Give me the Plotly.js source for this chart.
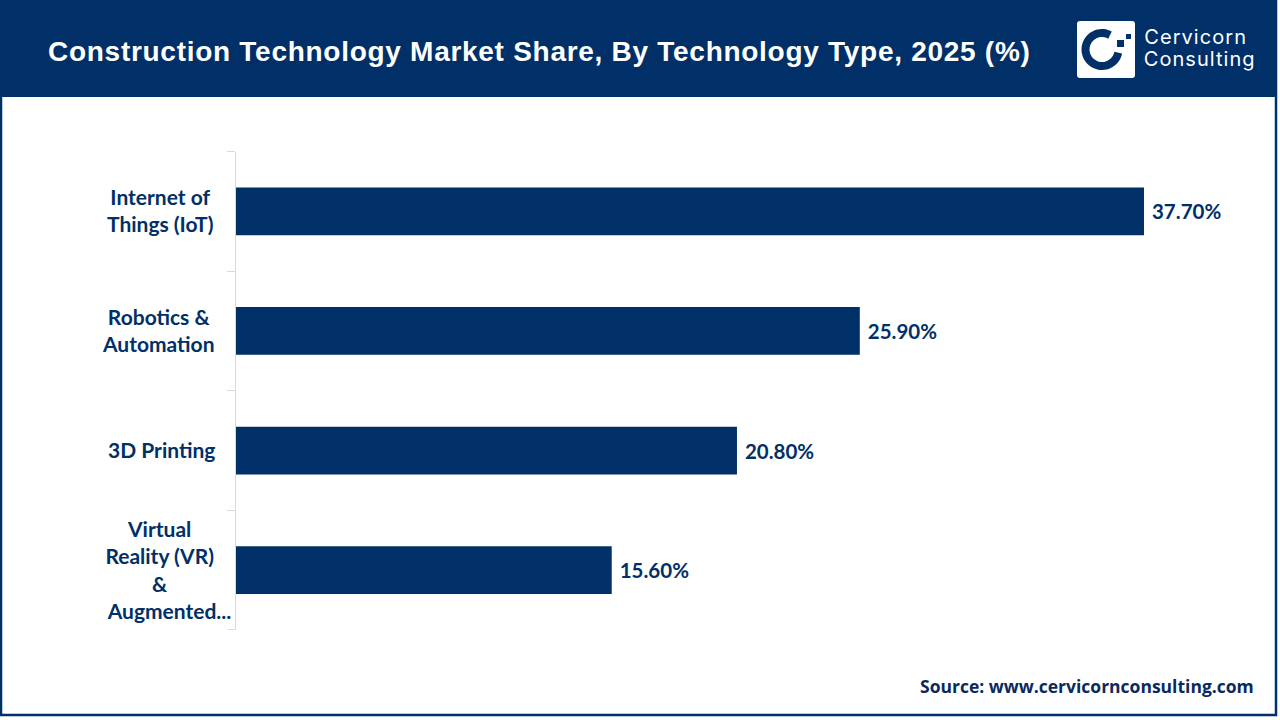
<!DOCTYPE html>
<html>
<head>
<meta charset="utf-8">
<script src="https://cdn.plot.ly/plotly-3.0.1.min.js"></script>
<style>html,body{margin:0;padding:0;background:#fff}#chart{width:1280px;height:720px}.gtitle{letter-spacing:.72px}
.annotation[data-index="5"] text,.annotation[data-index="6"] text{letter-spacing:1.05px}</style>
</head>
<body>
<div id="chart"></div>
<script>
const categories = ["Internet of Things (IoT)", "Robotics & Automation", "3D Printing", "Virtual Reality (VR) & Augmented Reality (AR)"];
const categoryLabels = ["Internet of<br>Things (IoT)", "Robotics &<br>Automation", "3D Printing", "Virtual<br>Reality (VR)<br>&<br>\u00a0\u00a0\u00a0\u00a0Augmented..."];
const shares = [37.7, 25.9, 20.8, 15.6];
const titleText = "Construction Technology Market Share, By Technology Type, 2025 (%)";
const sourceText = "Source: www.cervicornconsulting.com";
const logoLines = ["Cervicorn", "Consulting"];

const NAVY = "#003067";
const px = x => x / 1280;
const py = y => 1 - y / 720;
const rect = (x0, y0, x1, y1, fill, line, w) => ({
  type: "rect", xref: "paper", yref: "paper", layer: "below",
  x0: px(x0), x1: px(x1), y0: py(y0), y1: py(y1),
  fillcolor: fill, line: {color: line || fill, width: w || 0}
});
const P = (x, y) => px(x).toFixed(5) + "," + py(y).toFixed(5);

// logo ring drawn as an open stroked path
let ring = "";
for (let a = 61; a <= 354; a += 6) {
  const r = a * Math.PI / 180;
  ring += (ring ? "L" : "M") + P(1102 + 16.5 * Math.cos(r), 49.5 - 16.5 * Math.sin(r));
}
// rounded white logo tile
const L = 1077, R = 1135, T = 21, B = 78, C = 3;
const tile = "M" + P(L + C, T) + "L" + P(R - C, T) + "Q" + P(R, T) + " " + P(R, T + C) +
  "L" + P(R, B - C) + "Q" + P(R, B) + " " + P(R - C, B) + "L" + P(L + C, B) +
  "Q" + P(L, B) + " " + P(L, B - C) + "L" + P(L, T + C) + "Q" + P(L, T) + " " + P(L + C, T) + "Z";

const shapes = [
  rect(1, 1, 1276, 715, "#ffffff", NAVY, 2.5),
  rect(0, 0, 1277, 97, NAVY),
  {type: "path", xref: "paper", yref: "paper", layer: "above", path: tile, fillcolor: "#ffffff", line: {width: 0}},
  {type: "path", xref: "paper", yref: "paper", layer: "above", path: ring, line: {color: NAVY, width: 8}, fillcolor: "rgba(0,0,0,0)"},
  Object.assign(rect(1117, 40, 1124, 47, NAVY), {layer: "above"}),
  Object.assign(rect(1126, 34, 1131, 39, NAVY), {layer: "above"}),
  {type: "line", xref: "paper", yref: "paper", layer: "above", x0: px(228), x1: px(236), y0: py(629.5), y1: py(629.5), line: {color: "#d9d9d9", width: 1}}
];

const labelShift = [-0.5, -2, 1, -1];
const annotations = categories.map((c, i) => ({
  xref: "paper", yref: "y", x: px(160), y: c, text: categoryLabels[i],
  xshift: labelShift[i], yshift: 1,
  showarrow: false, xanchor: "center", yanchor: "middle", align: "center",
  font: {family: "Lato", size: 21, color: NAVY, weight: 700}
}));
annotations.push({
  xref: "paper", yref: "paper", x: px(1256), y: py(686), text: sourceText,
  showarrow: false, xanchor: "right", yanchor: "middle",
  font: {family: "Open Sans", size: 17.5, color: "#0b2a5c", weight: 700}
});
logoLines.forEach((t, i) => annotations.push({
  xref: "paper", yref: "paper", x: px(1146.5), y: py(36.5 + i * 22), text: t,
  showarrow: false, xanchor: "left", yanchor: "middle",
  font: {family: "Inter", size: 20, color: "#ffffff"}
}));

Plotly.newPlot("chart", [{
  type: "bar", orientation: "h", y: categories, x: shares,
  marker: {color: NAVY},
  texttemplate: "\u00a0%{x:.2f}%", textposition: "outside", cliponaxis: false,
  textfont: {family: "Lato", size: 20.5, color: NAVY, weight: 700},
  hoverinfo: "skip"
}], {
  width: 1280, height: 720, showlegend: false,
  paper_bgcolor: "#ffffff", plot_bgcolor: "#ffffff",
  margin: {l: 0, r: 0, t: 0, b: 0},
  bargap: 0.6,
  title: {text: titleText, x: px(48), xanchor: "left", xref: "paper", y: py(51), yanchor: "middle", yref: "paper",
          font: {family: "Liberation Sans", size: 28, color: "#ffffff", weight: 700}},
  xaxis: {domain: [px(236), px(1236)], range: [0, 41.52], visible: false, fixedrange: true},
  yaxis: {domain: [py(630), py(151.5)], range: [3.5, -0.5], type: "category", categoryorder: "array", categoryarray: categories,
          showticklabels: false, showgrid: false, zeroline: false, showline: true, linecolor: "#d9d9d9", linewidth: 1,
          ticks: "outside", tickson: "boundaries", ticklen: 8, tickcolor: "#d9d9d9", tickwidth: 1, fixedrange: true},
  shapes, annotations
}, {displayModeBar: false, staticPlot: true});
</script>
</body>
</html>
